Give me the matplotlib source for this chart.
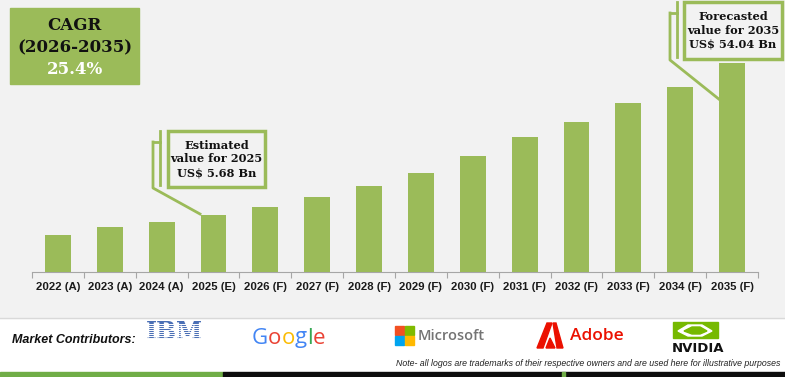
import matplotlib.pyplot as plt
from matplotlib.patches import Rectangle, Polygon

# chart is illustrative (not to scale) - heights
years = ['2022 (A)', '2023 (A)', '2024 (A)', '2025 (E)', '2026 (F)', '2027 (F)', '2028 (F)',
         '2029 (F)', '2030 (F)', '2031 (F)', '2032 (F)', '2033 (F)', '2034 (F)', '2035 (F)']
bar_heights = [37, 45, 50, 57, 65, 75, 86, 99, 116, 135, 150, 169, 185, 209]

cagr_period = '(2026-2035)'
cagr_value = '25.4%'
est_text = 'Estimated\nvalue for 2025\nUS$ 5.68 Bn'
fc_text = 'Forecasted\nvalue for 2035\nUS$ 54.04 Bn'
note_text = 'Note- all logos are trademarks of their respective owners and are used here for illustrative purposes'

green = '#9bbb59'
bg = '#f2f2f2'
W, H = 785, 377

fig = plt.figure(figsize=(W / 100, H / 100), dpi=100)
fig.patch.set_facecolor('white')

# overlay in pixel coordinates for decorations
ov = fig.add_axes([0, 0, 1, 1])
ov.set_xlim(0, W)
ov.set_ylim(H, 0)
ov.axis('off')
ov.add_patch(Rectangle((0, 0), W, 318, color=bg, zorder=0))
ov.plot([0, W], [318, 318], color='#d9d9d9', lw=1, zorder=1)

# bars
ax = fig.add_axes([32 / W, (H - 272) / H, (758 - 32) / W, 272 / H])
ax.set_facecolor('none')
x = range(len(years))
ax.bar(x, bar_heights, width=0.5, color=green, zorder=3)
ax.set_xlim(-0.5, len(years) - 0.5)
ax.set_ylim(0, 272)
ax.set_yticks([])
for s in ['top', 'right', 'left']:
    ax.spines[s].set_visible(False)
ax.spines['bottom'].set_color('#a6a6a6')
ax.set_xticks([i - 0.5 for i in range(len(years) + 1)])
ax.set_xticklabels([])
ax.tick_params(axis='x', length=4, color='#a6a6a6', direction='out')
for i, lab in enumerate(years):
    ax.text(i, -10, lab, ha='center', va='top', fontsize=8.2, fontweight='bold',
            family='Liberation Sans', color='#1a1a1a')

serif = 'DejaVu Serif'

# CAGR box
ov.add_patch(Rectangle((10, 8), 129, 76, color=green, zorder=2))
ov.text(74.5, 25, 'CAGR', ha='center', va='center', fontsize=12, fontweight='bold',
        family=serif, color='#111111', zorder=3)
ov.text(74.5, 48, cagr_period, ha='center', va='center', fontsize=12, fontweight='bold',
        family=serif, color='#111111', zorder=3)
ov.text(74.5, 70, cagr_value, ha='center', va='center', fontsize=12, fontweight='bold',
        family=serif, color='white', zorder=3)

# callouts
def callout(bx, by, bw, bh, xo, xi, ytop, ybot, tip, text):
    ov.add_patch(Rectangle((bx, by), bw, bh, fill=False, ec=green, lw=2.5, zorder=3))
    ov.plot([xi, xi], [by, ybot - 3], color=green, lw=2, zorder=3)
    ov.plot([xo, xi], [ytop, ytop], color=green, lw=2, zorder=3)
    ov.plot([xo, xo, tip[0]], [ytop, ybot, tip[1]], color=green, lw=2, zorder=3)
    ov.text(bx + bw / 2, by + bh / 2, text, ha='center', va='center', fontsize=8.2,
            fontweight='bold', family=serif, color='#111111', linespacing=1.3, zorder=4)

callout(168, 131, 97, 56, 153, 160, 142, 188, (200, 214), est_text)
callout(684, 2, 98, 57, 670, 677, 13, 60, (720, 100), fc_text)

# contributors strip
ov.text(12, 340, 'Market Contributors:', ha='left', va='center', fontsize=9,
        fontweight='bold', style='italic', family='Liberation Sans', color='#111111')

# IBM (striped blue)
ov.text(174.5, 332, 'IBM', ha='center', va='center', fontsize=17, fontweight='bold',
        family='DejaVu Serif', color='#4a6fb5', zorder=2)
for yy in range(322, 343, 2):
    ov.plot([140, 210], [yy + 1.5, yy + 1.5], color='white', lw=0.7, zorder=3)

# Google
renderer = fig.canvas.get_renderer()
gx = 252
for ch, col in zip('Google', ['#4285f4', '#ea4335', '#fbbc05', '#4285f4', '#34a853', '#ea4335']):
    t = ov.text(gx, 338, ch, ha='left', va='center', fontsize=16, family='Open Sans',
                color=col)
    bb = t.get_window_extent(renderer)
    gx += bb.width * 1.0

# Microsoft
for (dx, dy), col in zip([(0, 0), (10, 0), (0, 10), (10, 10)],
                         ['#f25022', '#7fba00', '#00a4ef', '#ffb900']):
    ov.add_patch(Rectangle((395 + dx, 326 + dy), 9, 9, color=col, zorder=2))
ov.text(418, 336, 'Microsoft', ha='left', va='center', fontsize=10.5,
        family='Open Sans', fontweight='semibold', color='#737373')

# Adobe
ov.add_patch(Polygon([(537, 348), (547, 323), (552, 323), (543, 348)], color='#eb1000'))
ov.add_patch(Polygon([(563, 348), (556, 323), (553, 323), (557, 348)], color='#eb1000'))
ov.add_patch(Polygon([(546, 348), (550, 338), (555, 348)], color='#eb1000'))
ov.text(570, 336, 'Adobe', ha='left', va='center', fontsize=12.5, family='Open Sans',
        fontweight='semibold', color='#eb1000')

# NVIDIA
ov.add_patch(Rectangle((673, 322), 45, 16, color='#76b900', zorder=2))
ov.add_patch(Polygon([(678, 331), (688, 325), (702, 325), (712, 331), (702, 336), (688, 336)],
                     color='white', zorder=3))
ov.add_patch(Polygon([(684, 331), (692, 327), (700, 327), (707, 331), (700, 334), (692, 334)],
                     color='#76b900', zorder=4))
ov.text(698, 348, 'NVIDIA', ha='center', va='center', fontsize=9.5, fontweight='bold',
        family='DejaVu Sans', color='#111111')

ov.text(396, 363, note_text, ha='left', va='center', fontsize=6.3, style='italic',
        family='Liberation Sans', color='#222222')

# bottom band
ov.add_patch(Rectangle((0, 372), 223, 5, color='#70ad47', zorder=2))
ov.add_patch(Rectangle((223, 372), W - 223, 5, color='#0d0d0d', zorder=2))
ov.add_patch(Rectangle((562, 372), 3, 5, color='#70ad47', zorder=3))

fig.savefig('out.png', dpi=100)
